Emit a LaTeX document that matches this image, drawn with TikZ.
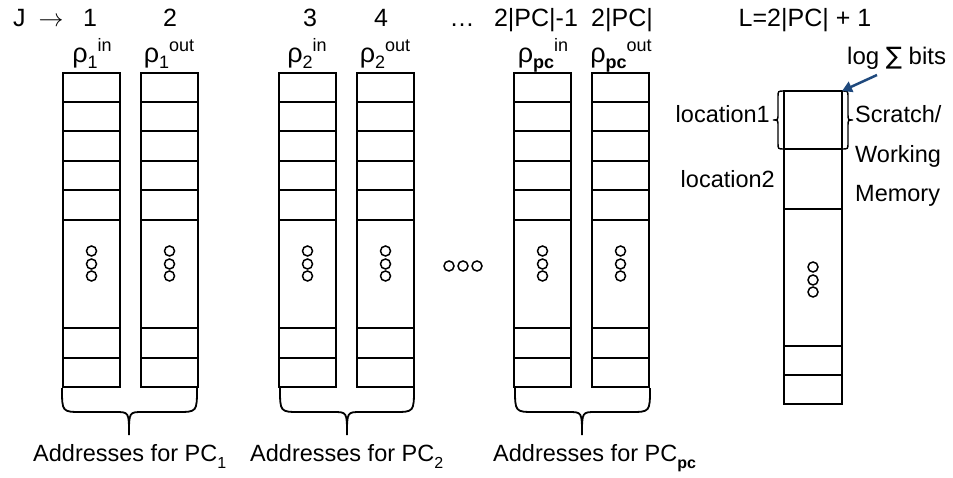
\documentclass[tikz,border=0pt]{standalone}
\usepackage{fontspec}
\setmainfont{Liberation Sans}
\newfontfamily\symbolfont{DejaVu Sans}
\usetikzlibrary{arrows.meta}
\definecolor{arrowblue}{RGB}{31,73,125}

% rho with a lowered subscript followed by a raised superscript
\newcommand\rhoidx[2]{{\fontsize{27}{30}\selectfont ρ}{\fontsize{18}{18}\selectfont\raisebox{-6pt}{#1}\raisebox{11pt}{#2}}}
% subscript used in the address captions
\newcommand\lowidx[1]{{\fontsize{16}{16}\selectfont\raisebox{-7pt}{#1}}}

\begin{document}
\begin{tikzpicture}[x=1pt,y=-1pt,
  cellline/.style={line width=1.8pt},
  ring/.style={line width=1.5pt},
  bracepath/.style={line width=1.8pt},
  smallbrace/.style={line width=1.4pt},
  toplabel/.style={font=\fontsize{25}{30}\selectfont, anchor=base, inner sep=0pt},
  sidelabel/.style={font=\fontsize{23.5}{28}\selectfont, inner sep=0pt},
  addrlabel/.style={font=\fontsize{23.5}{28}\selectfont, anchor=base west, inner sep=0pt},
  pointer/.style={arrowblue, line width=2.5pt, -{Triangle[length=10pt,width=11pt]}},
]
\useasboundingbox (0,0) rectangle (953,478);

% ---- address columns: five cells, a gap, two cells ----
\foreach \x in {63,141,279,357,514,592}{
  \draw[cellline] (\x,73) rectangle (\x+57,387);
  \foreach \y in {102,131,161,190,220,328,358}
    \draw[cellline] (\x,\y) -- (\x+57,\y);
  \foreach \y in {251,264,276}
    \draw[ring] (\x+28.5,\y) circle (5);
}

% horizontal ellipsis between the second and last pair
\foreach \x in {449,463,477}
  \draw[ring] (\x,266) circle (5);

% ---- scratch / working memory column ----
\draw[cellline] (784,91) rectangle (842,404);
\foreach \y in {149,209,346,375}
  \draw[cellline] (784,\y) -- (842,\y);
\foreach \y in {267,280,292}
  \draw[ring] (813,\y) circle (5);

% braces beside the first cell
\draw[smallbrace] (784,91) .. controls (778,91) .. (778,97) -- (778,114)
  .. controls (778,120) .. (773,120) .. controls (778,120) .. (778,126)
  -- (778,143) .. controls (778,149) .. (784,149);
\draw[smallbrace] (842,91) .. controls (848,91) .. (848,97) -- (848,114)
  .. controls (848,120) .. (853,120) .. controls (848,120) .. (848,126)
  -- (848,143) .. controls (848,149) .. (842,149);

% ---- braces under each pair of columns ----
\foreach \l/\t/\r in {62/129/197, 280/347/414, 515/582/650}{
  \draw[bracepath] (\l,388) .. controls (\l,412) .. (\l+20,412) -- (\t-14,412)
    .. controls (\t,412) .. (\t,435) .. controls (\t,412) .. (\t+14,412)
    -- (\r-20,412) .. controls (\r,412) .. (\r,388);
}

% ---- index row ----
\node[toplabel, anchor=base west] (jidx) at (13,27) {J\hspace{13pt}$\rightarrow$};
\node[toplabel] (idx1) at (90,27) {1};
\node[toplabel] (idx2) at (170,27) {2};
\node[toplabel] (idx3) at (310,27) {3};
\node[toplabel] (idx4) at (381,27) {4};
\node[toplabel] (idxdots) at (462,27) {…};
\node[toplabel] (idx5) at (536,27) {2|PC|-1};
\node[toplabel] (idx6) at (622,27) {2|PC|};
\node[toplabel] (idxL) at (805,27) {L=2|PC| + 1};

% ---- column headings ----
\node[toplabel] (rho1in)  at (92,63)  {\rhoidx{1}{in}};
\node[toplabel] (rho1out) at (169,63) {\rhoidx{1}{out}};
\node[toplabel] (rho2in)  at (307,63) {\rhoidx{2}{in}};
\node[toplabel] (rho2out) at (385,63) {\rhoidx{2}{out}};
\node[toplabel] (rhopcin)  at (543,63) {\rhoidx{\textbf{pc}}{in}};
\node[toplabel] (rhopcout) at (621,63) {\rhoidx{\textbf{pc}}{out}};

% ---- scratch memory labels ----
\node[toplabel, anchor=base west, font=\fontsize{24}{28}\selectfont] (logbits) at (847,65) {log {\symbolfont ∑} bits};
\coordinate (logtail) at (877,75);
\coordinate (memcorner) at (842,91);
\draw[pointer] (logtail) -- (memcorner);

\node[sidelabel, anchor=base east] (loc1) at (770,123) {location1};
\node[sidelabel, anchor=base east] (loc2) at (775,188) {location2};
\node[sidelabel, anchor=base west] (scr1) at (855,123) {Scratch/};
\node[sidelabel, anchor=base west] (scr2) at (855,163) {Working};
\node[sidelabel, anchor=base west] (scr3) at (855,202) {Memory};

% ---- address captions ----
\node[addrlabel] (addr1) at (33,461) {Addresses for PC\lowidx{1}};
\node[addrlabel] (addr2) at (250,461) {Addresses for PC\lowidx{2}};
\node[addrlabel] (addr3) at (493,461) {Addresses for PC\lowidx{\textbf{pc}}};
\end{tikzpicture}
\end{document}
